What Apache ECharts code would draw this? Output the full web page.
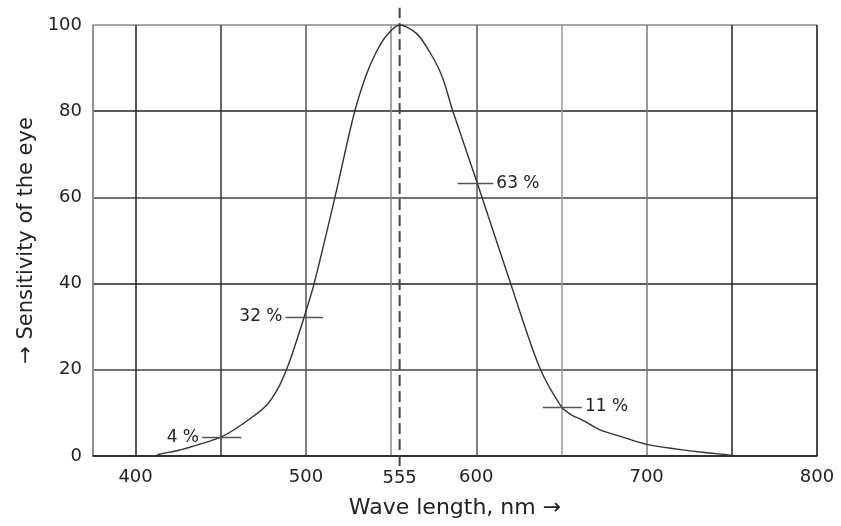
<!DOCTYPE html>
<html>
<head>
<meta charset="utf-8">
<script src="https://cdn.jsdelivr.net/npm/echarts@6/dist/echarts.min.js"></script>
<style>
    html, body { margin: 0; padding: 0; background: #fff; }
    #main { width: 841px; height: 526px; }
</style>
</head>
<body>
<div id="main"></div>
<script type="text/javascript">
    // wave length (nm) and sensitivity (%)
    var waveLength = [412, 414, 426, 450, 462, 476, 484, 490, 499, 505, 517, 528, 535, 541, 547, 555,
                      565, 573, 580, 586, 600.6, 620, 637, 650, 656, 662, 673, 685, 700, 718, 734, 749, 750];
    var sensitivity = [0, 0.4, 1.4, 4.4, 7.2, 11.4, 16, 21.5, 32.3, 40.3, 60, 79, 88, 93.5, 97.4, 100,
                       98, 93.5, 88, 80.3, 63.3, 40.2, 20.7, 11.4, 9.5, 8.4, 6, 4.5, 2.7, 1.6, 0.8, 0.2, 0];

    // x tick labels shown under the axis
    var xLabels = [400, 500, 600, 700, 800];
    var yLabels = [0, 20, 40, 60, 80, 100];

    // percentage markers on the curve
    var markFrom = [439, 488, 589, 639];
    var markTo = [462, 510, 610, 662];
    var markValue = [4.3, 32.3, 63.3, 11.4];
    var markText = ['4 %', '32 %', '63 %', '11 %'];
    var markSide = ['start', 'start', 'end', 'end'];

    // peak wave length, dashed line runs a bit past the frame
    var peakWave = 555;
    var peakSpan = [-2.3, 104];

    var textColor = '#222';
    var fontFamily = '"DejaVu Sans", sans-serif';
    var none = 'rgba(0,0,0,0)';

    var points = [];
    for (var i = 0; i < waveLength.length; i++) {
        points.push([waveLength[i], sensitivity[i]]);
    }

    var markData = [];
    for (var j = 0; j < markFrom.length; j++) {
        markData.push([
            {
                coord: [markFrom[j], markValue[j]],
                lineStyle: { color: '#555', width: 1.3, type: 'solid' },
                label: {
                    show: true,
                    position: markSide[j],
                    formatter: markText[j],
                    color: textColor,
                    fontSize: 17,
                    fontFamily: fontFamily,
                    distance: 3
                }
            },
            { coord: [markTo[j], markValue[j]] }
        ]);
    }

    var myChart = echarts.init(document.getElementById('main'));

    var option = {
        backgroundColor: '#fff',
        animation: false,
        grid: { left: 93, right: 24, top: 25, bottom: 70 },
        xAxis: {
            type: 'value',
            min: 375,
            max: 800,
            interval: 25,
            name: 'Wave length, nm \u2192',
            nameLocation: 'middle',
            nameGap: 41,
            nameTextStyle: { color: textColor, fontSize: 22, fontFamily: fontFamily },
            axisLine: { show: true, lineStyle: { color: '#222', width: 1.5 } },
            axisTick: { show: false },
            axisLabel: {
                color: textColor,
                fontSize: 18,
                fontFamily: fontFamily,
                margin: 12,
                formatter: function (v) {
                    return xLabels.indexOf(v) >= 0 ? String(v) : '';
                }
            },
            splitLine: {
                show: true,
                lineStyle: {
                    width: 1.5,
                    // 375 .. 800 every 25, only the 50s are drawn
                    color: ['#888', '#222', none, '#333', none, '#555', none, '#888', none,
                            '#555', none, '#999', none, '#777', none, '#222', none, '#111']
                }
            }
        },
        yAxis: {
            type: 'value',
            min: 0,
            max: 100,
            interval: 20,
            name: '\u2192 Sensitivity of the eye',
            nameLocation: 'middle',
            nameRotate: 90,
            nameGap: 54,
            nameTextStyle: { color: textColor, fontSize: 21, fontFamily: fontFamily },
            axisLine: { show: true, lineStyle: { color: '#888', width: 1.5 } },
            axisTick: { show: false },
            axisLabel: {
                color: textColor,
                fontSize: 18,
                fontFamily: fontFamily,
                margin: 11,
                formatter: function (v) {
                    return yLabels.indexOf(v) >= 0 ? String(v) : '';
                }
            },
            splitLine: {
                show: true,
                lineStyle: {
                    width: 1.5,
                    color: ['#222', '#444', '#222', '#444', '#222', '#888']
                }
            }
        },
        series: [
            {
                type: 'line',
                data: points,
                smooth: 0.3,
                clip: false,
                showSymbol: false,
                lineStyle: { color: '#333', width: 1.4 },
                z: 3,
                markLine: {
                    silent: true,
                    symbol: ['none', 'none'],
                    data: markData
                }
            },
            {
                // dashed peak line with its 555 label under the axis
                type: 'line',
                clip: false,
                symbol: 'circle',
                symbolSize: 0,
                showSymbol: true,
                lineStyle: { color: '#444', width: 2, type: [11, 5] },
                itemStyle: { color: none },
                z: 2,
                data: [
                    {
                        value: [peakWave, peakSpan[0]],
                        label: {
                            show: true,
                            position: 'bottom',
                            distance: 3,
                            formatter: String(peakWave),
                            color: textColor,
                            fontSize: 18,
                            fontFamily: fontFamily
                        }
                    },
                    [peakWave, peakSpan[1]]
                ]
            }
        ]
    };
    myChart.setOption(option);
</script>
</body>
</html>
